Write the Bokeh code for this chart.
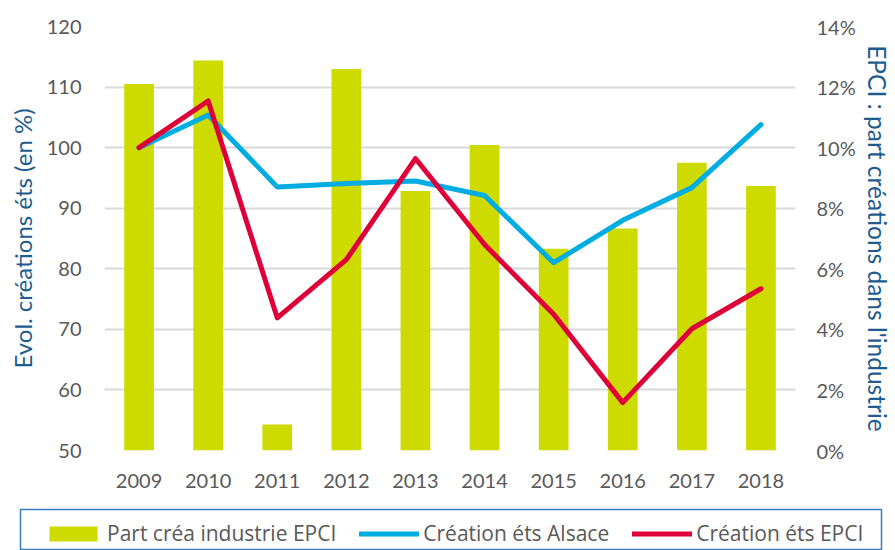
from bokeh.plotting import figure
from bokeh.layouts import column
from bokeh.models import (Range1d, LinearAxis, NumeralTickFormatter, Legend, LegendItem,
                          FixedTicker, ColumnDataSource)
from bokeh.embed import file_html
from bokeh.resources import INLINE

years = ["2009", "2010", "2011", "2012", "2013", "2014", "2015", "2016", "2017", "2018"]
part_crea_industrie_epci = [0.1210, 0.1288, 0.0086, 0.1260, 0.0857, 0.1009, 0.0666, 0.0733, 0.0950, 0.0873]
creation_ets_alsace = [100.0, 105.4, 93.5, 94.1, 94.5, 92.1, 81.0, 88.0, 93.4, 103.8]
creation_ets_epci = [100.0, 107.7, 71.9, 81.5, 98.2, 84.0, 72.5, 57.9, 70.1, 76.7]
left_ticks = [50, 60, 70, 80, 90, 100, 110, 120]
right_ticks = [0.0, 0.02, 0.04, 0.06, 0.08, 0.10, 0.12, 0.14]
series_labels = ["Part créa industrie EPCI", "Création éts Alsace", "Création éts EPCI"]

FONT = "Lato"
TICK_COLOR = "#595959"
TITLE_COLOR = "#1F5C8E"
BAR_COLOR = "#CEDB00"
BLUE = "#00ADE3"
RED = "#DD0039"

src = ColumnDataSource(dict(year=years, part=part_crea_industrie_epci,
                            alsace=creation_ets_alsace, epci=creation_ets_epci))


def draw_series(fig, pct_range):
    b = fig.vbar(x="year", top="part", bottom=0, width=0.43, source=src, y_range_name=pct_range,
                 fill_color=BAR_COLOR, line_color=None)
    la = fig.line(x="year", y="alsace", source=src, line_color=BLUE, line_width=5,
                  line_join="round", line_cap="round")
    le = fig.line(x="year", y="epci", source=src, line_color=RED, line_width=5,
                  line_join="round", line_cap="round")
    return b, la, le


def no_ticks(axis):
    axis.axis_line_color = None
    axis.major_tick_line_color = None
    axis.minor_tick_line_color = None
    axis.major_tick_out = 0
    axis.major_tick_in = 0
    axis.minor_tick_out = 0
    axis.minor_tick_in = 0


# ---------------- main chart ----------------
p = figure(width=895, height=505, x_range=years, y_range=Range1d(50, 120),
           output_backend="svg", toolbar_location=None,
           min_border_left=104, min_border_right=100, min_border_top=26, min_border_bottom=55)
p.frame_align = False
p.outline_line_color = None
p.extra_y_ranges = {"pct": Range1d(0, 0.14)}
draw_series(p, "pct")

ax = p.yaxis[0]
ax.ticker = FixedTicker(ticks=left_ticks)
ax.axis_label = "Evol. créations éts (en %)"
ax.axis_label_text_font = FONT
ax.axis_label_text_font_size = "24px"
ax.axis_label_text_font_style = "normal"
ax.axis_label_text_color = TITLE_COLOR
ax.axis_label_standoff = 7
ax.major_label_text_font = FONT
ax.major_label_text_font_size = "20px"
ax.major_label_text_color = TICK_COLOR
ax.major_label_standoff = 23
no_ticks(ax)

ra = LinearAxis(y_range_name="pct", ticker=FixedTicker(ticks=right_ticks),
                formatter=NumeralTickFormatter(format="0%"))
ra.axis_label = "EPCI : part créations dans l'industrie"
ra.axis_label_text_font = FONT
ra.axis_label_text_font_size = "24.5px"
ra.axis_label_text_font_style = "normal"
ra.axis_label_text_color = TITLE_COLOR
ra.axis_label_standoff = 4
ra.major_label_text_font = FONT
ra.major_label_text_font_size = "20px"
ra.major_label_text_color = TICK_COLOR
ra.major_label_standoff = 21
no_ticks(ra)
p.add_layout(ra, "right")

xa = p.xaxis[0]
xa.major_label_text_font = FONT
xa.major_label_text_font_size = "20px"
xa.major_label_text_color = TICK_COLOR
xa.major_label_standoff = 23
no_ticks(xa)

p.xgrid.grid_line_color = None
p.ygrid.ticker = FixedTicker(ticks=left_ticks)
p.ygrid.grid_line_color = "#D9D9D9"
p.ygrid.grid_line_width = 2

# ---------------- legend strip ----------------
# same series, drawn outside the strip's visible value range; its frame outline is the legend box
p2 = figure(width=895, height=45, x_range=years, y_range=Range1d(1000, 1001),
            x_axis_location=None, y_axis_location=None,
            output_backend="svg", toolbar_location=None,
            min_border_left=20, min_border_right=14, min_border_top=4, min_border_bottom=0)
p2.frame_align = False
p2.extra_y_ranges = {"pct": Range1d(1000, 1001)}
p2.outline_line_color = "#3A7CC0"
p2.outline_line_width = 1.5
p2.xgrid.grid_line_color = None
p2.ygrid.grid_line_color = None
g_bar, g_blue, g_red = draw_series(p2, "pct")

legend = Legend(items=[
    LegendItem(label=series_labels[0], renderers=[g_bar]),
    LegendItem(label=series_labels[1], renderers=[g_blue]),
    LegendItem(label=series_labels[2], renderers=[g_red]),
], orientation="horizontal", location=(23, 3))
legend.label_text_font = "Open Sans"
legend.label_text_font_size = "21px"
legend.label_text_color = TICK_COLOR
legend.glyph_width = 60
legend.glyph_height = 19
legend.label_standoff = 4
legend.spacing = 23
legend.padding = 0
legend.margin = 0
legend.label_height = 20
legend.border_line_color = None
legend.background_fill_alpha = 0
p2.add_layout(legend, "center")

layout = column(p, p2, spacing=0)
open("out.html", "w").write(file_html(layout, INLINE))
